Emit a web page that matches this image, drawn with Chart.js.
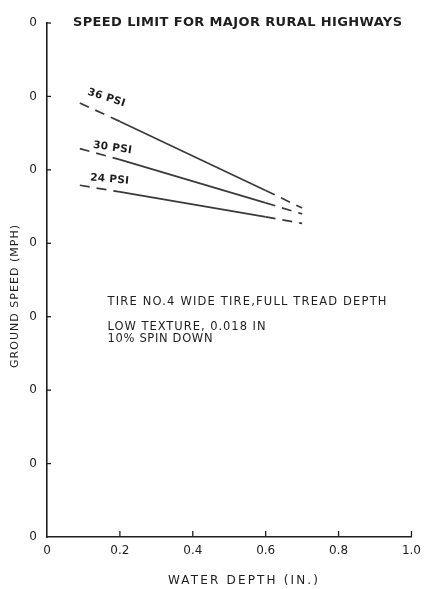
<!DOCTYPE html>
<html>
<head>
<meta charset="utf-8">
<script src="https://cdn.jsdelivr.net/npm/chart.js@4/dist/chart.umd.min.js"></script>
<style>
  html, body { margin: 0; padding: 0; background: #fff; }
  canvas { display: block; }
</style>
</head>
<body>
<canvas id="c" width="428" height="589"></canvas>
<script>
// Water depth (in.) sampled along each curve
const depths = [0.09, 0.2, 0.6, 0.7];
// Ground speed (mph) for each tire pressure
const psi36 = [59.1, 56.6, 47.2, 44.8];
const psi30 = [52.9, 51.4, 45.5, 44.0];
const psi24 = [47.9, 47.0, 43.6, 42.7];
const seriesNames = ['36 PSI', '30 PSI', '24 PSI'];
// Axis tick labels as printed
const xTickLabels = ['0', '0.2', '0.4', '0.6', '0.8', '1.0'];
const yTickLabels = ['0', '0', '0', '0', '0', '0', '0', '0'];

const INK = '#1e1e1e';
const LINE = '#3a3a3a';
const FONT = '"DejaVu Sans", "Liberation Sans", sans-serif';

function pts(ys) { return depths.map((x, i) => ({ x, y: ys[i] })); }

// dashed where the curves are extrapolated, solid between 0.2 and 0.6 in.
const dashed = ctx => (ctx.p0.parsed.x < 0.2 - 1e-6 || ctx.p0.parsed.x >= 0.6 - 1e-6) ? [10, 7] : undefined;

function ds(label, ys) {
  return {
    label, data: pts(ys), borderColor: LINE, borderWidth: 1.7,
    pointRadius: 0, tension: 0, fill: false,
    segment: { borderDash: dashed }
  };
}

// text with spacing stretched to a given width
function spacedText(ctx, text, x, y, width) {
  ctx.letterSpacing = '0px';
  const w = ctx.measureText(text).width;
  const sp = (width - w) / (text.length - 1);
  ctx.letterSpacing = sp + 'px';
  ctx.fillText(text, x, y);
  ctx.letterSpacing = '0px';
}

const decor = {
  id: 'decor',
  afterDraw(chart) {
    const { ctx, scales: { x, y } } = chart;
    ctx.save();
    // inward tick marks
    ctx.strokeStyle = INK;
    ctx.lineWidth = 1.3;
    x.ticks.forEach(t => {
      if (t.value === 0) return;
      const px = x.getPixelForValue(t.value);
      ctx.beginPath();
      ctx.moveTo(px, y.bottom);
      ctx.lineTo(px, y.bottom - 6);
      ctx.stroke();
    });
    y.ticks.forEach(t => {
      if (t.value === 0) return;
      const py = y.getPixelForValue(t.value);
      ctx.beginPath();
      ctx.moveTo(x.left, py);
      ctx.lineTo(x.left + 4, py);
      ctx.stroke();
    });

    ctx.fillStyle = INK;
    ctx.textBaseline = 'middle';
    ctx.textAlign = 'left';

    // heading
    ctx.font = 'bold 13px ' + FONT;
    spacedText(ctx, 'SPEED LIMIT FOR MAJOR RURAL HIGHWAYS', 73, 23, 329);

    // test conditions
    ctx.font = '11.5px ' + FONT;
    const nx = x.getPixelForValue(0.166);
    spacedText(ctx, 'TIRE NO.4 WIDE TIRE,FULL TREAD DEPTH', nx, 302, 279);
    spacedText(ctx, 'LOW TEXTURE, 0.018 IN', nx, 327, 158);
    spacedText(ctx, '10% SPIN DOWN', nx, 339.5, 105);

    // axis titles
    ctx.font = '12px ' + FONT;
    spacedText(ctx, 'WATER DEPTH (IN.)', 168, 581, 150);
    ctx.save();
    ctx.translate(15, 368);
    ctx.rotate(-Math.PI / 2);
    ctx.font = '11px ' + FONT;
    spacedText(ctx, 'GROUND SPEED (MPH)', 0, 0, 143);
    ctx.restore();

    // curve labels
    const lab = [
      { t: seriesNames[0], x: 0.163, y: 59.8, a: 18 },
      { t: seriesNames[1], x: 0.180, y: 53.0, a: 8 },
      { t: seriesNames[2], x: 0.172, y: 48.7, a: 5 }
    ];
    ctx.font = 'bold 10.5px ' + FONT;
    ctx.textAlign = 'center';
    lab.forEach(l => {
      ctx.save();
      ctx.translate(x.getPixelForValue(l.x), y.getPixelForValue(l.y));
      ctx.rotate(l.a * Math.PI / 180);
      ctx.letterSpacing = '0.3px';
      ctx.fillText(l.t, 0, 0);
      ctx.restore();
    });
    ctx.restore();
  }
};

new Chart(document.getElementById('c'), {
  type: 'line',
  data: { datasets: [ds(seriesNames[0], psi36), ds(seriesNames[1], psi30), ds(seriesNames[2], psi24)] },
  options: {
    responsive: false,
    animation: false,
    devicePixelRatio: 1,
    layout: { padding: { left: 0, right: 14, top: 23, bottom: 0 } },
    plugins: { legend: { display: false }, tooltip: { enabled: false }, title: { display: false } },
    scales: {
      x: {
        type: 'linear', min: 0, max: 1,
        afterFit: s => { s.height = 52; },
        grid: { display: true, drawOnChartArea: false, drawTicks: false },
        border: { display: true, color: INK, width: 1.6 },
        ticks: {
          stepSize: 0.2, padding: 7, color: INK, maxRotation: 0,
          font: { family: FONT, size: 12 },
          callback: (v, i) => xTickLabels[i]
        }
      },
      y: {
        type: 'linear', min: 0, max: 70,
        afterFit: s => { s.width = 47; },
        grid: { display: true, drawOnChartArea: false, drawTicks: false },
        border: { display: true, color: INK, width: 1.6 },
        ticks: {
          stepSize: 10, padding: 10, color: INK,
          font: { family: FONT, size: 12 },
          callback: (v, i) => yTickLabels[i]
        }
      }
    }
  },
  plugins: [decor]
});
</script>
</body>
</html>
